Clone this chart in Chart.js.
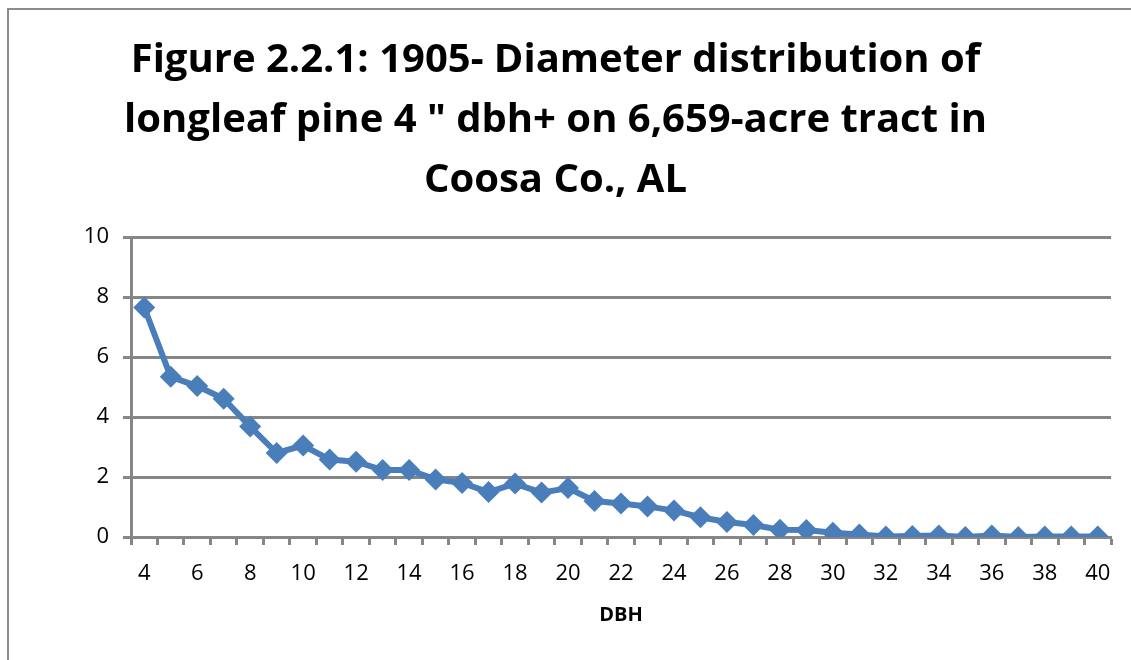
<!DOCTYPE html>
<html>
<head>
<meta charset="utf-8">
<script src="https://cdn.jsdelivr.net/npm/chart.js@4"></script>
<style>
  html, body { margin: 0; padding: 0; background: #fff; }
  #wrap { position: relative; width: 1131px; height: 660px; overflow: hidden; }
  #frame { position: absolute; left: 7px; top: 8px; width: 1200px; height: 700px; border-left: 2px solid #8c8c8c; border-top: 2px solid #8c8c8c; box-sizing: border-box; }
  canvas { position: absolute; left: 0; top: 0; }
</style>
</head>
<body>
<div id="wrap">
  <div id="frame"></div>
  <canvas id="c" width="1131" height="660"></canvas>
</div>
<script>
const titleLines = [
  'Figure 2.2.1: 1905\u2010 Diameter distribution of',
  'longleaf pine 4 " dbh+ on 6,659\u2010acre tract in',
  'Coosa Co., AL'
];
const xAxisTitle = 'DBH';
const dbhClasses = [4,5,6,7,8,9,10,11,12,13,14,15,16,17,18,19,20,21,22,23,24,25,26,27,28,29,30,31,32,33,34,35,36,37,38,39,40];
const treesPerAcre = [7.65,5.34,5.03,4.61,3.68,2.8,3.05,2.58,2.51,2.23,2.23,1.92,1.8,1.5,1.78,1.48,1.63,1.2,1.12,1.02,0.88,0.66,0.5,0.4,0.24,0.23,0.14,0.08,0.02,0.03,0.05,0.0,0.05,0.0,0.02,0.02,0.02];
const yTicks = { min: 0, max: 10, step: 2 };

const gridGray = '#868686';
const lineBlue = '#4a7ebb';
const fontFam = '"Open Sans", "Noto Sans", sans-serif';

new Chart(document.getElementById('c'), {
  type: 'line',
  data: {
    labels: dbhClasses,
    datasets: [{
      data: treesPerAcre,
      borderColor: lineBlue,
      backgroundColor: lineBlue,
      borderWidth: 6,
      pointStyle: 'rectRot',
      pointRadius: 11,
      pointBorderWidth: 0,
      pointBackgroundColor: lineBlue,
      tension: 0
    }]
  },
  options: {
    responsive: false,
    animation: false,
    devicePixelRatio: 1,
    layout: { padding: { left: 0, right: 20, top: 0, bottom: 0 } },
    plugins: {
      legend: { display: false },
      tooltip: { enabled: false },
      title: {
        display: true,
        text: titleLines,
        color: '#000',
        font: { family: fontFam, size: 40, weight: 'bold', lineHeight: 60 / 40 },
        padding: { top: 31, bottom: 26 }
      }
    },
    scales: {
      x: {
        type: 'category',
        offset: true,
        grid: { display: true, drawOnChartArea: false, drawTicks: true, tickLength: 8, tickWidth: 3, tickColor: gridGray, offset: true },
        border: { display: true, color: gridGray, width: 3 },
        ticks: {
          autoSkip: false,
          maxRotation: 0,
          color: '#000',
          padding: 16,
          font: { family: fontFam, size: 22 },
          callback: function(v, i) { const l = dbhClasses[i]; return l % 2 === 0 ? String(l) : ''; }
        },
        title: {
          display: true,
          text: xAxisTitle,
          color: '#000',
          font: { family: fontFam, size: 20, weight: 'bold', lineHeight: 1.2 },
          padding: { top: 0, bottom: 33 }
        },
        afterFit: function(s) { s.height = 123; }
      },
      y: {
        min: yTicks.min,
        max: yTicks.max,
        grid: { color: gridGray, lineWidth: 3, drawTicks: true, tickLength: 8, tickColor: gridGray },
        border: { display: true, color: gridGray, width: 3 },
        ticks: {
          stepSize: yTicks.step,
          color: '#000',
          padding: 14,
          font: { family: fontFam, size: 22 }
        },
        afterFit: function(s) { s.width = 131; }
      }
    }
  }
});
</script>
</body>
</html>
